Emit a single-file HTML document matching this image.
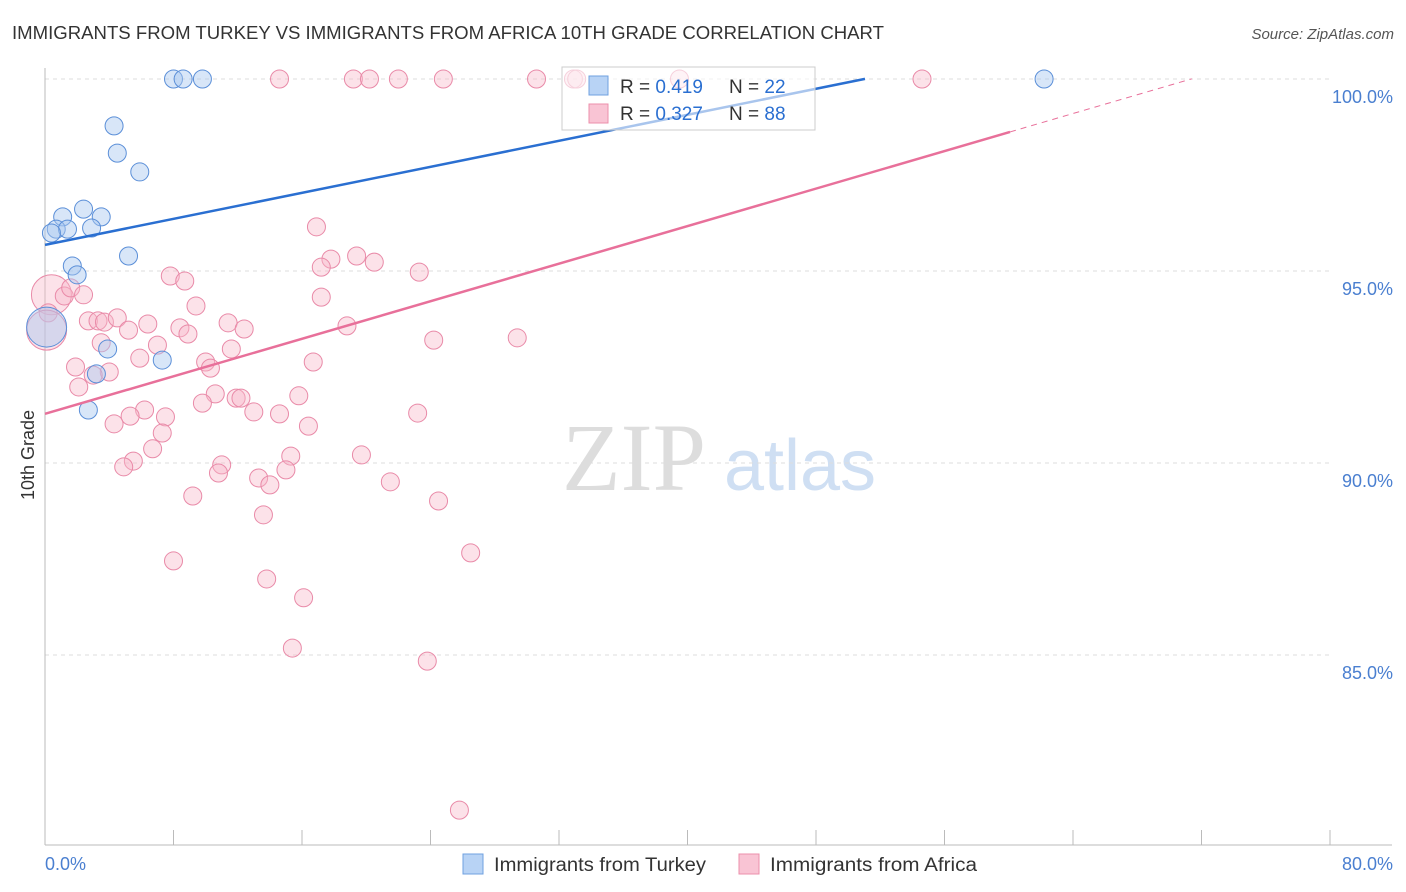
<!DOCTYPE html>
<html><head><meta charset="utf-8">
<style>
body{margin:0;background:#fff;font-family:"Liberation Sans",sans-serif;}
svg{display:block}
</style></head><body>
<svg id="chart" width="1406" height="892" xmlns="http://www.w3.org/2000/svg" font-family="Liberation Sans, sans-serif">
<text x="12" y="39" font-size="18" fill="#333" textLength="872" lengthAdjust="spacingAndGlyphs">IMMIGRANTS FROM TURKEY VS IMMIGRANTS FROM AFRICA 10TH GRADE CORRELATION CHART</text>
<text x="1394" y="39" font-size="15" fill="#555" text-anchor="end" font-style="italic">Source: ZipAtlas.com</text>
<text x="634" y="490" font-size="96" fill="#ddd" font-family="Liberation Serif, serif" text-anchor="middle">ZIP</text>
<text x="800" y="490" font-size="72" fill="#cfdff3" text-anchor="middle">atlas</text>
<g id="grid"></g><g id="axes"></g><g id="pts"></g><g id="lines"></g>
<text transform="translate(34,455) rotate(-90)" font-size="18" fill="#333" text-anchor="middle">10th Grade</text>
<g>
<rect x="562" y="67" width="253" height="63" fill="#fff" fill-opacity="0.6" stroke="#ccc"/>
<rect x="589" y="76" width="19" height="19" fill="#b8d3f5" stroke="#6fa0e0"/>
<rect x="589" y="104" width="19" height="19" fill="#f9c4d4" stroke="#ec8fab"/>
<text x="620" y="93" font-size="19" fill="#333">R = <tspan fill="#2a6fd1">0.419</tspan></text>
<text x="729" y="93" font-size="19" fill="#333">N = <tspan fill="#2a6fd1">22</tspan></text>
<text x="620" y="120" font-size="19" fill="#333">R = <tspan fill="#2a6fd1">0.327</tspan></text>
<text x="729" y="120" font-size="19" fill="#333">N = <tspan fill="#2a6fd1">88</tspan></text>
</g>
<g>
<rect x="463" y="854" width="20" height="20" fill="#b8d3f5" stroke="#6fa0e0"/>
<text x="494" y="871" font-size="19" fill="#333" textLength="212" lengthAdjust="spacingAndGlyphs">Immigrants from Turkey</text>
<rect x="739" y="854" width="20" height="20" fill="#f9c4d4" stroke="#ec8fab"/>
<text x="770" y="871" font-size="19" fill="#333" textLength="207" lengthAdjust="spacingAndGlyphs">Immigrants from Africa</text>
</g>
</svg>
<script>
const xTicks=[0,80];
const yTicks=[85,90,95,100];
const blueX=[8.0,8.6,9.8,62.2,4.3,4.5,5.9,2.4,1.1,3.5,0.7,1.4,2.9,0.4,5.2,1.7,2.0,0.1,3.9,7.3,3.2,2.7];
const blueY=[100,100,100,100,98.78,98.07,97.58,96.61,96.41,96.41,96.09,96.09,96.12,95.99,95.39,95.13,94.90,93.54,92.97,92.68,92.32,91.38];
const blueR=[9,9,9,9,9,9,9,9,9,9,9,9,9,9,9,9,9,20,9,9,9,9];
const pinkX=[14.6,19.2,20.2,22.0,24.8,30.6,32.9,33.1,39.5,54.6,16.9,19.4,17.8,20.5,17.2,23.3,7.8,8.7,0.4,1.2,1.6,2.4,17.2,9.4,0.2,2.7,3.3,3.7,4.5,6.4,8.4,5.2,8.9,11.4,12.4,18.8,24.2,29.4,3.5,7.0,11.6,5.9,10.0,10.3,16.7,1.9,4.0,3.0,2.1,10.6,15.8,9.8,11.9,12.2,6.2,13.0,14.6,23.2,5.3,7.5,4.3,16.4,7.3,6.7,15.3,19.7,5.5,4.9,11.0,10.8,15.0,13.3,14.0,21.5,9.2,24.5,13.6,26.5,8.0,13.8,16.1,15.4,23.8,25.8,0.1];
const pinkY=[100,100,100,100,100,100,100,100,100,100,96.15,95.39,95.31,95.23,95.10,94.97,94.87,94.74,94.38,94.35,94.56,94.38,94.32,94.09,93.91,93.70,93.70,93.67,93.78,93.62,93.52,93.46,93.36,93.65,93.49,93.57,93.20,93.26,93.13,93.07,92.97,92.73,92.63,92.47,92.63,92.50,92.37,92.29,91.98,91.80,91.75,91.56,91.69,91.69,91.38,91.33,91.28,91.30,91.22,91.20,91.02,90.96,90.78,90.37,90.18,90.21,90.05,89.90,89.95,89.74,89.82,89.61,89.43,89.51,89.14,89.01,88.65,87.66,87.45,86.98,86.49,85.18,84.84,80.96,93.46];
const pinkBig=[18,84];
const blueLine=[95.68,0.0847,51.05];
const pinkLine=[91.28,0.1222,60.08,71.4];
const X=v=>45+v/80*1285, Y=v=>79+(100-v)/5*192;
const NS='http://www.w3.org/2000/svg';
function mk(t,a,p){const e=document.createElementNS(NS,t);for(const k in a)e.setAttribute(k,a[k]);document.getElementById(p).appendChild(e);return e;}
yTicks.forEach(t=>{
 const g=mk('line',{x1:45,x2:1330,y1:Y(t),y2:Y(t),stroke:'#ddd','stroke-dasharray':'4 4'},'grid');
 
 
 const l=mk('text',{x:1393,y:Y(t)+24,'font-size':18,fill:'#4a7fd0','text-anchor':'end'},'axes');
 l.textContent=t.toFixed(1)+'%';
 
 
});
const ax=mk('line',{x1:45,x2:45,y1:68,y2:845,stroke:'#bbb'},'axes');


const bx=mk('line',{x1:45,x2:1392,y1:845,y2:845,stroke:'#bbb'},'axes');


for(let i=0;i<=10;i++){const tk=mk('line',{x1:X(i*8),x2:X(i*8),y1:830,y2:845,stroke:'#bbb'},'axes');
 
 }
xTicks.forEach((t,i)=>{const l=mk('text',{x:i?1393:45,y:870,'font-size':18,fill:'#4a7fd0','text-anchor':i?'end':'start'},'axes');
 l.textContent=t.toFixed(1)+'%';
 
 });
pinkX.forEach((v,i)=>{const c=mk('circle',{cx:X(v),cy:Y(pinkY[i]),r:pinkBig.includes(i)?20:9,fill:'#f7b6c9','fill-opacity':0.4,stroke:'#e98aa8','stroke-width':1},'pts');
 
 });
blueX.forEach((v,i)=>{const c=mk('circle',{cx:X(v),cy:Y(blueY[i]),r:blueR[i],fill:'#a9c8f0','fill-opacity':0.45,stroke:'#5b8fd8','stroke-width':1},'pts');
 
 });
const bl=mk('line',{x1:X(0),y1:Y(blueLine[0]),x2:X(blueLine[2]),y2:Y(blueLine[0]+blueLine[1]*blueLine[2]),stroke:'#2a6fd1','stroke-width':2.5},'lines');


const pl=mk('line',{x1:X(0),y1:Y(pinkLine[0]),x2:X(pinkLine[2]),y2:Y(pinkLine[0]+pinkLine[1]*pinkLine[2]),stroke:'#e8709a','stroke-width':2.5},'lines');


const pd=mk('line',{x1:X(pinkLine[2]),y1:Y(pinkLine[0]+pinkLine[1]*pinkLine[2]),x2:X(pinkLine[3]),y2:Y(pinkLine[0]+pinkLine[1]*pinkLine[3]),stroke:'#e8709a','stroke-width':1,'stroke-dasharray':'6 5'},'lines');


</script>
</body></html>
